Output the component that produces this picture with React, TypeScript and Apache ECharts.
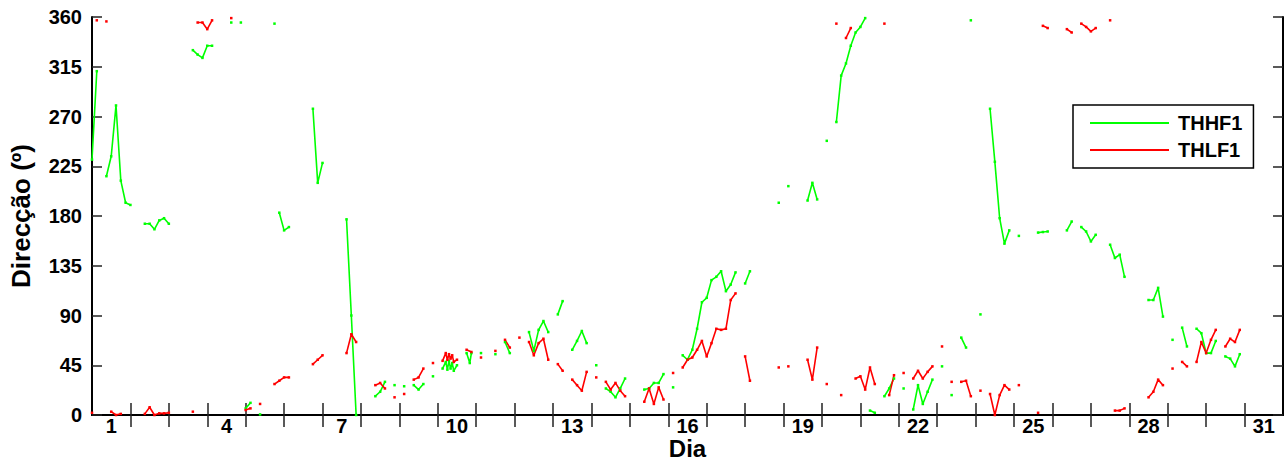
import React, { useEffect, useRef } from "react";
import * as echarts from "echarts";

const X_LABEL_DAYS = [1, 4, 7, 10, 13, 16, 19, 22, 25, 28, 31];
const X_TICK_DAYS = [1.5, 2.5, 3.5, 4.5, 5.5, 6.5, 7.5, 8.5, 9.5, 10.5, 11.5, 12.5, 13.5, 14.5, 15.5, 16.5, 17.5, 18.5, 19.5, 20.5, 21.5, 22.5, 23.5, 24.5, 25.5, 26.5, 27.5, 28.5, 29.5, 30.5];
const SERIES_NAMES = ["THHF1", "THLF1"];

// THHF1 (green): segments of [day, direction in degrees]
const THHF1: number[][][] = [
  [[0.5, 231], [0.625, 311]],
  [[0.875, 216], [1.0, 234], [1.125, 280], [1.25, 212], [1.375, 192], [1.5, 190]],
  [[1.875, 173], [2.0, 173], [2.125, 168], [2.25, 176], [2.375, 178], [2.5, 173]],
  [[3.125, 330], [3.25, 326], [3.375, 323], [3.5, 334], [3.625, 334]],
  [[4.125, 355]],
  [[4.375, 355]],
  [[4.5, 6], [4.625, 11]],
  [[4.875, 0.5]],
  [[5.25, 354]],
  [[5.375, 183], [5.5, 167], [5.625, 170]],
  [[6.25, 277], [6.375, 210], [6.5, 228]],
  [[7.125, 177], [7.25, 90], [7.375, 0]],
  [[7.875, 17], [8.0, 21], [8.125, 30]],
  [[8.375, 27]],
  [[8.625, 26]],
  [[8.875, 27], [9.0, 23], [9.125, 28]],
  [[9.375, 35]],
  [[9.625, 42], [9.708, 48], [9.75, 41], [9.792, 49], [9.833, 42], [9.875, 47], [9.917, 40], [10.0, 45]],
  [[10.25, 56], [10.333, 47], [10.375, 56]],
  [[10.625, 56]],
  [[11.0, 55]],
  [[11.25, 66], [11.375, 56]],
  [[11.875, 75], [12.0, 58], [12.125, 77], [12.25, 85], [12.375, 75]],
  [[12.625, 91], [12.75, 103]],
  [[13.0, 59], [13.125, 67], [13.25, 76], [13.375, 65]],
  [[13.625, 45]],
  [[13.875, 24], [14.0, 21], [14.125, 16], [14.25, 24], [14.375, 33]],
  [[14.875, 23], [15.0, 24], [15.125, 29], [15.25, 29], [15.375, 37]],
  [[15.625, 25]],
  [[15.875, 54], [16.0, 50], [16.125, 59], [16.25, 78], [16.375, 102], [16.5, 106], [16.625, 122], [16.75, 125], [16.875, 130], [17.0, 112], [17.125, 118], [17.25, 129]],
  [[17.5, 119], [17.625, 130]],
  [[18.375, 192]],
  [[18.625, 207]],
  [[19.125, 194], [19.25, 210], [19.375, 195]],
  [[19.625, 248]],
  [[19.875, 265], [20.0, 307], [20.125, 318], [20.25, 334], [20.375, 346], [20.5, 351], [20.625, 359]],
  [[20.75, 4], [20.875, 2]],
  [[21.125, 17], [21.25, 24], [21.375, 33]],
  [[21.625, 24]],
  [[21.875, 5], [22.0, 27], [22.125, 10], [22.25, 21], [22.375, 32]],
  [[22.625, 44]],
  [[22.875, 18]],
  [[23.125, 70], [23.25, 61]],
  [[23.375, 357]],
  [[23.625, 91]],
  [[23.875, 277], [24.0, 229], [24.125, 178], [24.25, 155], [24.375, 167]],
  [[24.625, 162]],
  [[25.125, 165], [25.25, 165.5], [25.375, 166]],
  [[25.875, 167], [26.0, 175]],
  [[26.25, 170], [26.375, 166], [26.5, 157], [26.625, 163]],
  [[27.0, 154], [27.125, 142], [27.25, 145], [27.375, 125]],
  [[28.0, 104], [28.125, 104], [28.25, 115], [28.375, 89]],
  [[28.625, 68]],
  [[28.875, 79], [29.0, 62]],
  [[29.25, 78], [29.375, 74], [29.5, 56], [29.625, 56], [29.75, 67]],
  [[30.0, 53], [30.125, 51], [30.25, 44], [30.375, 55]],
];

// THLF1 (red): segments of [day, direction in degrees]
const THLF1: number[][][] = [
  [[0.5, 2]],
  [[0.625, 357]],
  [[0.875, 356]],
  [[1.0, 3], [1.125, 0], [1.25, 1]],
  [[1.875, 1], [2.0, 7], [2.125, 0], [2.25, 1.5], [2.375, 1.5], [2.5, 2]],
  [[3.125, 3]],
  [[3.25, 355], [3.375, 355], [3.5, 349], [3.625, 357]],
  [[4.125, 359]],
  [[4.5, 4.5], [4.625, 6]],
  [[4.875, 10]],
  [[5.25, 28], [5.375, 31], [5.5, 34], [5.625, 34]],
  [[6.25, 46], [6.375, 50], [6.5, 54]],
  [[7.125, 56], [7.25, 73], [7.375, 66]],
  [[7.875, 27], [8.0, 29], [8.125, 24]],
  [[8.375, 16]],
  [[8.625, 19]],
  [[8.875, 32], [9.0, 34], [9.125, 42]],
  [[9.375, 47]],
  [[9.625, 49], [9.708, 56], [9.75, 50], [9.792, 55], [9.833, 51], [9.875, 54], [9.917, 48], [10.0, 50]],
  [[10.25, 59], [10.375, 57]],
  [[10.625, 52]],
  [[11.0, 58]],
  [[11.25, 68], [11.375, 61]],
  [[11.625, 70]],
  [[11.875, 66], [12.0, 54], [12.125, 65], [12.25, 69], [12.375, 50]],
  [[12.625, 46], [12.75, 40]],
  [[13.0, 32], [13.125, 27], [13.25, 22], [13.375, 39]],
  [[13.625, 34]],
  [[13.875, 30], [14.0, 23], [14.125, 29], [14.25, 22], [14.375, 17]],
  [[14.875, 12], [15.0, 24], [15.125, 10], [15.25, 25], [15.375, 14]],
  [[15.625, 38]],
  [[15.875, 43], [16.0, 50], [16.125, 52], [16.25, 59], [16.375, 67], [16.5, 53], [16.625, 65], [16.75, 78], [16.875, 77], [17.0, 78], [17.125, 104], [17.25, 110]],
  [[17.5, 53], [17.625, 31]],
  [[18.375, 43]],
  [[18.625, 44]],
  [[19.125, 50], [19.25, 32], [19.375, 61]],
  [[19.625, 28]],
  [[19.875, 354]],
  [[20.0, 18]],
  [[20.125, 341], [20.25, 350]],
  [[20.375, 33], [20.5, 35], [20.625, 23], [20.75, 43], [20.875, 28]],
  [[21.125, 354]],
  [[21.25, 18], [21.375, 36]],
  [[21.625, 38]],
  [[21.875, 33], [22.0, 40], [22.125, 33], [22.25, 39], [22.375, 44]],
  [[22.625, 62]],
  [[22.875, 30]],
  [[23.125, 30], [23.25, 31], [23.375, 17]],
  [[23.625, 22]],
  [[23.875, 19], [24.0, 0], [24.125, 18], [24.25, 27], [24.375, 23]],
  [[24.625, 27]],
  [[25.125, 2]],
  [[25.25, 352], [25.375, 350]],
  [[25.875, 349], [26.0, 346]],
  [[26.25, 354], [26.375, 351], [26.5, 347], [26.625, 350]],
  [[27.0, 357]],
  [[27.125, 4], [27.25, 4], [27.375, 6]],
  [[28.0, 16], [28.125, 21], [28.25, 32], [28.375, 27]],
  [[28.625, 42]],
  [[28.875, 48], [29.0, 44]],
  [[29.25, 48], [29.375, 66], [29.5, 56], [29.625, 68], [29.75, 77]],
  [[30.0, 62], [30.125, 69], [30.25, 66], [30.375, 77]],
];

const FONT = "'Liberation Sans', Arial, Helvetica, sans-serif";
const GREEN = "#00ff00";
const RED = "#ff0000";

function toLineData(segs: number[][][]) {
  const out: any[] = [];
  segs.forEach((seg) => {
    seg.forEach((p) => out.push([p[0], p[1]]));
    out.push([seg[seg.length - 1][0], "-"]);
  });
  return out;
}

export default function App() {
  const ref = useRef<HTMLDivElement>(null);
  useEffect(() => {
    if (!ref.current) return;
    const chart = echarts.init(ref.current, undefined, { renderer: "svg" });
    const axisLine = { show: true, lineStyle: { color: "#000", width: 2 } };
    const tickStyle = { color: "#222", width: 1.5 };
    const option: any = {
      animation: false,
      backgroundColor: "#fff",
      grid: { left: 92, right: 4, top: 17, bottom: 46, containLabel: false, outerBoundsMode: "none" },
      legend: {
        data: SERIES_NAMES,
        orient: "vertical",
        left: 1073,
        top: 105,
        padding: [8, 11, 8, 17],
        itemGap: 7,
        itemWidth: 79,
        itemHeight: 2,
        icon: "rect",
        borderColor: "#000",
        borderWidth: 1.5,
        backgroundColor: "#fff",
        textStyle: { fontSize: 20, fontWeight: "bold", color: "#000", fontFamily: FONT, padding: [0, 0, 0, 4] },
      },
      xAxis: [
        {
          type: "value",
          min: 0.5,
          max: 31.5,
          position: "bottom",
          name: "Dia",
          nameLocation: "middle",
          nameGap: 21,
          nameMoveOverlap: false,
          nameTextStyle: { fontSize: 24, fontWeight: "bold", color: "#000", fontFamily: FONT, lineHeight: 24 },
          axisLine,
          axisTick: { show: true, inside: true, length: 12, lineStyle: tickStyle, customValues: X_TICK_DAYS },
          axisLabel: { show: true, customValues: X_LABEL_DAYS, fontSize: 20, fontWeight: "bold", color: "#000", fontFamily: FONT, margin: 1, lineHeight: 20 },
          splitLine: { show: false },
        },
        {
          type: "value",
          min: 0.5,
          max: 31.5,
          position: "top",
          axisLine,
          axisTick: { show: true, inside: true, length: 12, lineStyle: tickStyle, customValues: X_TICK_DAYS },
          axisLabel: { show: false },
          splitLine: { show: false },
        },
      ],
      yAxis: [
        {
          type: "value",
          min: 0,
          max: 360,
          interval: 45,
          position: "left",
          name: "Direcção (º)",
          nameLocation: "middle",
          nameGap: 58,
          nameMoveOverlap: false,
          nameTextStyle: { fontSize: 26, fontWeight: "bold", color: "#000", fontFamily: FONT },
          axisLine,
          axisTick: { show: true, inside: true, length: 10, lineStyle: tickStyle },
          axisLabel: { fontSize: 20, fontWeight: "bold", color: "#000", fontFamily: FONT, margin: 10 },
          splitLine: { show: false },
        },
        {
          type: "value",
          min: 0,
          max: 360,
          interval: 45,
          position: "right",
          axisLine,
          axisTick: { show: true, inside: true, length: 10, lineStyle: tickStyle },
          axisLabel: { show: false },
          splitLine: { show: false },
        },
      ],
      series: [
        {
          name: SERIES_NAMES[0],
          type: "line",
          xAxisIndex: 0,
          yAxisIndex: 0,
          data: toLineData(THHF1),
          connectNulls: false,
          showSymbol: true,
          symbol: "rect",
          symbolSize: 2.5,
          color: GREEN,
          itemStyle: { color: GREEN },
          lineStyle: { color: GREEN, width: 1.6 },
          clip: true,
        },
        {
          name: SERIES_NAMES[1],
          type: "line",
          xAxisIndex: 0,
          yAxisIndex: 0,
          data: toLineData(THLF1),
          connectNulls: false,
          showSymbol: true,
          symbol: "rect",
          symbolSize: 2.5,
          color: RED,
          itemStyle: { color: RED },
          lineStyle: { color: RED, width: 1.6 },
          clip: true,
        },
      ],
    };
    chart.setOption(option);
    return () => chart.dispose();
  }, []);
  return <div ref={ref} style={{ position: "absolute", left: 0, top: 0, width: 1287, height: 461 }} />;
}
